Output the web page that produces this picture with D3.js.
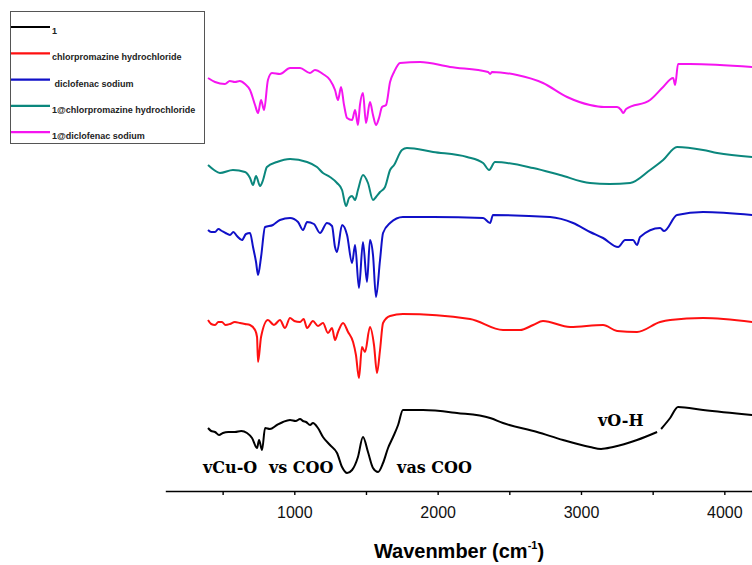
<!DOCTYPE html>
<html lang="en">
<head>
<meta charset="UTF-8">
<title>FTIR spectra</title>
<script src="https://d3js.org/d3.v7.min.js"></script>
<style>
  body { margin: 0; background: #fff; }
  svg { display: block; }
</style>
</head>
<body>
<svg id="canvas"></svg>
<script>

// spectra: [wavenumber (cm-1), transmittance (a.u., stacked offset)]
let black1 = [[398,63],[420,60],[447,59],[475,56],[502,58],[540,59],[586,59],[630,60],[670,58],[705,53],[740,43],[754,51],[775,41],[796,63],
  [830,62],[879,66],[921,69],[970,71],[1010,70],[1040,72],[1060,70],[1082,69],[1110,66],[1130,68],[1165,63],[1200,54],[1249,46],[1298,38],
  [1333,24],[1368,18],[1403,21],[1444,34],[1479,54],[1514,39],[1549,23],[1584,19],[1619,28],[1654,43],
  [1689,54],[1724,66],[1758,81],[1898,81],[2135,78],[2366,73],[2456,68],[2694,59],[2875,51],[3063,44],
  [3140,42],[3224,44],[3391,51],[3531,59],null,[3559,62],[3622,73],[3677,84],[3852,81],[4194,76]]

let chlorpromazine = [[398,171],[420,167],[447,166],[470,169],[495,169],[520,166],[551,167],[585,169],[621,168],[655,167],[691,166],[726,161],[740,154],[747,129],
  [768,154],[816,171],[858,166],[900,171],[935,163],[970,173],[1000,170],[1040,169],[1065,172],[1089,163],[1130,170],[1165,165],
  [1200,168],[1235,158],[1263,163],[1284,151],[1305,159],[1340,168],[1375,159],[1410,149],[1430,136],
  [1451,113],[1472,144],[1493,139],[1528,164],[1556,146],[1577,118],[1598,141],[1619,168],[1668,175],
  [1758,177],[2226,172],[2456,161],[2575,161],[2666,166],[2735,170],[2924,164],[3154,166],[3252,160],
  [3391,159],[3552,169],[3622,171],[3852,173],[4194,169]]

let diclofenac = [[398,261],[420,259],[447,259],[470,262],[495,260],[520,258],[551,256],[575,259],[600,255],[635,251],[663,257],[691,258],[712,244],
  [733,229],[747,216],[768,234],[796,264],[851,266],[900,271],[970,273],[1026,269],[1061,261],[1089,269],
  [1137,267],[1179,258],[1228,268],[1263,265],[1284,244],[1298,239],[1333,266],[1368,256],[1403,228],
  [1424,246],[1451,203],[1479,249],[1507,209],[1528,251],[1549,236],[1570,194],[1598,231],[1619,258],
  [1668,268],[1758,274],[1968,274],[2317,273],[2366,268],[2386,276],[2784,274],[2945,268],[3063,259],
  [3154,253],[3259,244],[3308,251],[3363,251],[3391,246],[3412,254],[3552,263],[3580,260],[3670,276],
  [3852,279],[4194,276]]

let comp1Chlor = [[398,326],[440,321],[481,318],[572,321],[656,319],[691,313],[712,306],[733,315],[761,305],
  [782,311],[809,324],[879,329],[970,332],[1089,329],[1158,324],[1200,318],[1249,314],[1298,308],[1333,301],
  [1361,285],[1382,293],[1403,295],[1424,291],[1444,301],[1479,316],[1514,308],[1549,291],[1570,294],
  [1598,299],[1633,304],[1668,321],[1696,326],[1751,341],[1786,343],[1968,339],[2205,334],[2317,328],
  [2359,321],[2400,329],[2666,323],[2854,316],[3063,308],[3200,307],[3343,308],[3482,321],[3573,331],[3670,344],
  [3852,341],[3950,338],[4194,334]]

let comp1Diclo = [[398,413],[447,409],[516,407],[550,410],[586,409],[620,410],[656,407],[691,401],[726,386],[747,378],[768,391],
  [789,381],[816,411],[844,418],[900,417],[970,423],[1040,423],[1109,418],[1144,421],[1200,417],[1249,411],
  [1284,401],[1305,391],[1326,404],[1347,386],[1368,373],[1403,371],[1424,381],[1444,366],[1458,386],
  [1479,398],[1500,368],[1528,389],[1549,376],[1570,366],[1591,373],[1612,384],[1640,386],[1668,409],
  [1696,419],[1738,428],[1877,429],[2086,424],[2352,419],[2366,417],[2380,419],[2554,416],[2735,408],
  [2903,394],[3063,386],[3160,384],[3252,384],[3280,381],[3294,378],[3315,382],[3482,391],[3573,404],[3643,413],
  [3657,406],[3677,427],[3761,427],[4194,424]]

let seriesNames = ['1', 'chlorpromazine hydrochloride', ' diclofenac sodium', '1@chlorpromazine hydrochloride', '1@diclofenac sodium']
let seriesColors = ['#000000', '#ff1010', '#1010c8', '#0b877d', '#f514f0']
let seriesData = [black1, chlorpromazine, diclofenac, comp1Chlor, comp1Diclo]

let tickValues = [500, 1000, 1500, 2000, 2500, 3000, 3500, 4000]
let tickLabels = [1000, 2000, 3000, 4000]

// band labels on the black spectrum: [text, wavenumber of left edge, transmittance]
let bandLabels = [['vCu-O', 363, 18], ['vs COO', 823, 18], ['vas COO', 1717, 18], ['vO-H', 3119, 65]]

let width = 752
let height = 565

let canvas = d3.select('#canvas')
canvas.attr('width', width)
canvas.attr('height', height)

let xScale = d3.scaleLinear()
  .domain([100, 4200])
  .range([165.3, 753])

let yScale = d3.scaleLinear()
  .domain([0, 450])
  .range([491, 41])

let line = d3.line()
  .defined(d => d !== null)
  .curve(d3.curveMonotoneX)
  .x(d => xScale(d[0]))
  .y(d => yScale(d[1]))

let drawLines = () => {
  canvas.selectAll('path.spectrum')
    .data(seriesData)
    .enter()
    .append('path')
    .attr('class', 'spectrum')
    .attr('d', d => line(d))
    .attr('fill', 'none')
    .attr('stroke', (d, i) => seriesColors[i])
    .attr('stroke-width', 2)
    .attr('stroke-linejoin', 'round')
}

let drawLabels = () => {
  canvas.selectAll('text.band')
    .data(bandLabels)
    .enter()
    .append('text')
    .attr('class', 'band')
    .attr('x', d => xScale(d[1]))
    .attr('y', d => yScale(d[2]))
    .style('font-family', '"DejaVu Serif", serif')
    .style('font-weight', 'bold')
    .style('font-size', '16px')
    .text(d => d[0])
}

let drawAxis = () => {
  let xAxis = d3.axisBottom(xScale)
    .tickValues(tickValues)
    .tickSize(4)
    .tickSizeOuter(0)
    .tickFormat(d => tickLabels.includes(d) ? d : '')

  let g = canvas.append('g')
    .attr('id', 'x-axis')
    .attr('transform', 'translate(0, ' + yScale(0) + ')')
    .call(xAxis)
  g.select('.domain').attr('stroke-width', 1.6)
  g.selectAll('.tick line').attr('stroke-width', 1.4)
  g.selectAll('.tick text')
    .attr('y', 16)
    .style('font-family', '"Liberation Sans", Arial, sans-serif')
    .style('font-size', '16px')
    .attr('fill', '#111')

  let title = canvas.append('text')
    .attr('x', 459)
    .attr('y', 558)
    .attr('text-anchor', 'middle')
    .style('font-family', '"Liberation Sans", Arial, sans-serif')
    .style('font-weight', 'bold')
    .style('font-size', '20px')
  title.append('tspan').text('Wavenmber (cm')
  title.append('tspan').attr('dy', -9).style('font-size', '11px').text('-1')
  title.append('tspan').attr('dy', 9).text(')')
}

let drawLegend = () => {
  let legend = canvas.append('g').attr('id', 'legend')
  legend.append('rect')
    .attr('x', 10.5)
    .attr('y', 11.5)
    .attr('width', 194)
    .attr('height', 132)
    .attr('fill', '#fff')
    .attr('stroke', '#555')
    .attr('stroke-width', 1)

  let rows = legend.selectAll('g.row')
    .data(seriesNames)
    .enter()
    .append('g')
    .attr('class', 'row')
    .attr('transform', (d, i) => 'translate(0, ' + (27 + i * 26.3) + ')')

  rows.append('line')
    .attr('x1', 11).attr('x2', 50)
    .attr('y1', 0).attr('y2', 0)
    .attr('stroke', (d, i) => seriesColors[i])
    .attr('stroke-width', 2.2)

  rows.append('text')
    .attr('x', 52)
    .attr('y', 7)
    .style('font-family', '"Liberation Sans", Arial, sans-serif')
    .style('font-weight', 'bold')
    .style('font-size', '9px')
    .attr('fill', '#222')
    .style('white-space', 'pre')
    .text(d => d)
}

drawLines()
drawLabels()
drawAxis()
drawLegend()

</script>
</body>
</html>
